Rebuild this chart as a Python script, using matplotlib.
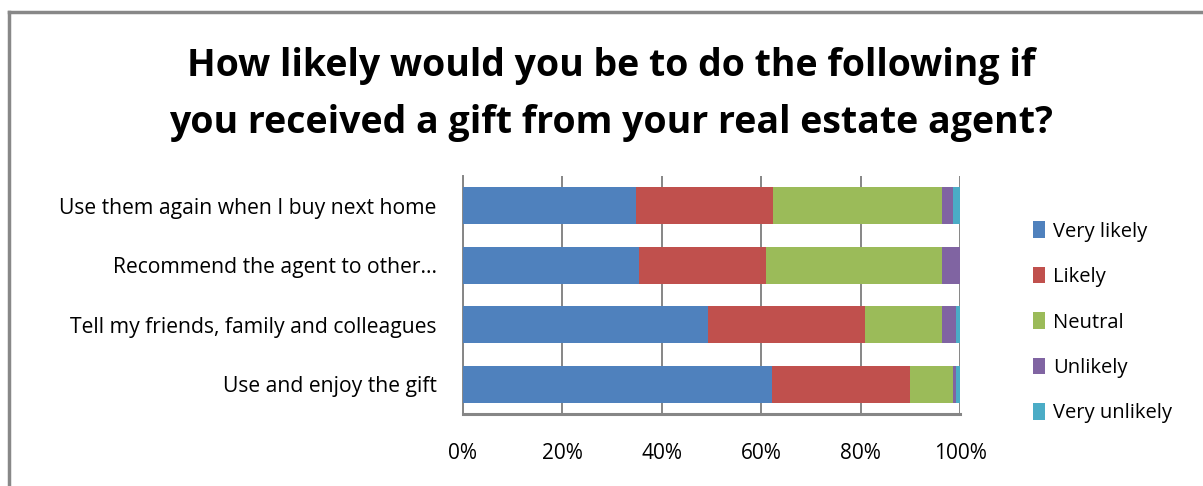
import matplotlib.pyplot as plt
import numpy as np
from matplotlib.lines import Line2D

plt.rcParams["font.family"] = ["Open Sans", "DejaVu Sans"]

# categories, bottom to top
categorias = ["Use and enjoy the gift",
              "Tell my friends, family and colleagues",
              "Recommend the agent to other...",
              "Use them again when I buy next home"]
series = ["Very likely", "Likely", "Neutral", "Unlikely", "Very unlikely"]
muy_probable = [62.2, 49.3, 35.5, 34.8]
probable = [27.7, 31.5, 25.5, 27.5]
neutral = [8.7, 15.6, 35.4, 34.1]
improbable = [0.6, 2.8, 3.6, 2.2]
muy_improbable = [0.8, 0.8, 0.0, 1.4]
colores = ["#4F81BD", "#C0504D", "#9BBB59", "#8064A2", "#4BACC6"]

valores = [muy_probable, probable, neutral, improbable, muy_improbable]

fig = plt.figure(figsize=(12.03, 4.86), dpi=100)
ax = fig.add_axes([463/1203, 1-414/486, 497/1203, 238/486])

y = np.arange(len(categorias))
izq = np.zeros(len(categorias))
for nombre, vals, col in zip(series, valores, colores):
    v = np.array(vals)
    ax.barh(y, v, left=izq, height=0.62, color=col, label=nombre, zorder=3)
    izq += v

ax.set_xlim(0, 100)
ax.set_ylim(-0.5, 3.5)
ax.set_xticks(np.arange(0, 101, 20))
ax.set_xticklabels([f"{t}%" for t in range(0, 101, 20)])
ax.set_yticks(y)
ax.set_yticklabels(categorias)
ax.tick_params(axis="x", length=0, pad=21, labelsize=15)
ax.tick_params(axis="y", length=0, pad=19, labelsize=15.2)
ax.grid(axis="x", color="#868686", linewidth=1.4, zorder=0)
for s in ["top", "right"]:
    ax.spines[s].set_visible(False)
ax.spines["left"].set_color("#868686")
ax.spines["left"].set_linewidth(1.4)
ax.spines["bottom"].set_color("#868686")
ax.spines["bottom"].set_linewidth(2.2)

fig.text(0.508, 1-66/486, "How likely would you be to do the following if",
         ha="center", va="center", fontsize=27, fontweight="bold")
fig.text(0.508, 1-123/486, "you received a gift from your real estate agent?",
         ha="center", va="center", fontsize=27, fontweight="bold")

ax.legend(loc="center left", bbox_to_anchor=(1.11, 0.385), frameon=False,
          fontsize=14.5, handlelength=0.6, handleheight=0.9,
          handletextpad=0.4, labelspacing=1.25)

# marco del grafico
x0 = 9/1203
y0 = 1-12/486
fig.add_artist(Line2D([x0, x0], [0, y0], color="#888888", linewidth=2.5, transform=fig.transFigure))
fig.add_artist(Line2D([x0, 1], [y0, y0], color="#888888", linewidth=2.5, transform=fig.transFigure))

plt.savefig("out.png", dpi=100)
